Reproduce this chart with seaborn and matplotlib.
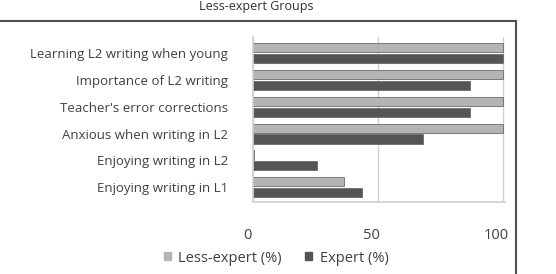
import matplotlib
matplotlib.use("Agg")
import matplotlib.pyplot as plt
import matplotlib.transforms as mtransforms
from matplotlib.patches import Rectangle
import seaborn as sns
import pandas as pd

categories = ["Learning L2 writing when young", "Importance of L2 writing",
              "Teacher's error corrections", "Anxious when writing in L2",
              "Enjoying writing in L2", "Enjoying writing in L1"]
less_expert = [100, 100, 100, 100, 0.5, 36.5]
expert = [100, 87, 87, 68, 25.5, 43.5]
series_names = ["Less-expert (%)", "Expert (%)"]
x_ticks = [0, 50, 100]
title = "Less-expert Groups"

df = pd.DataFrame({
    "cat": categories * 2,
    "val": less_expert + expert,
    "series": [series_names[0]] * len(categories) + [series_names[1]] * len(categories),
})

sns.set_theme(style="white")
plt.rcParams['font.family'] = ['Open Sans', 'DejaVu Sans']
txt = "#404040"

fig = plt.figure(figsize=(5.56, 2.74), dpi=100)
ax = fig.add_axes([253/556, 1-202/274, 252/556, 165/274])

sns.barplot(data=df, y="cat", x="val", hue="series", orient="h",
            palette=["#b4b4b4", "#555555"], width=0.8, gap=0.15,
            edgecolor="#6a6a6a", linewidth=0.6, ax=ax, legend=False)

ax.set_xlim(0, 101)
ax.set_ylim(5.55, -0.6)
ax.set_xticks(x_ticks)
ax.set_xticklabels([str(t) for t in x_ticks])
for t in x_ticks:
    ax.axvline(t, color="#d0d0d0", lw=1, zorder=0)
ax.set_xlabel("")
ax.set_ylabel("")
for k, s in ax.spines.items():
    s.set_visible(k in ("left", "bottom"))
    s.set_color("#d0d0d0")
ax.tick_params(axis="x", length=0, pad=19, labelsize=10.5, labelcolor=txt)
ax.tick_params(axis="y", length=0, pad=18, labelsize=9.5, labelcolor=txt)
off = mtransforms.ScaledTranslation(-6/100, 0, fig.dpi_scale_trans)
for lab in ax.get_xticklabels():
    lab.set_transform(lab.get_transform() + off)

# outer frame
fig.patches.append(Rectangle((-0.02, -0.05), 516/556 + 0.02, 1 - 21/274 + 0.05,
                             transform=fig.transFigure, fill=False,
                             edgecolor="#505050", lw=1.5))

fig.text(256/556, 1.0, title, ha="center", va="top", fontsize=9, color="#303030")

handles = [plt.Rectangle((0, 0), 1, 1, color=c) for c in ["#b4b4b4", "#555555"]]
fig.legend(handles, series_names, loc="center", bbox_to_anchor=(276/556, 1-258/274),
           ncol=2, frameon=False, handlelength=0.5, handleheight=0.5,
           handletextpad=0.5, columnspacing=1.6, fontsize=10.5, labelcolor=txt)

fig.savefig("out.png", dpi=100)
